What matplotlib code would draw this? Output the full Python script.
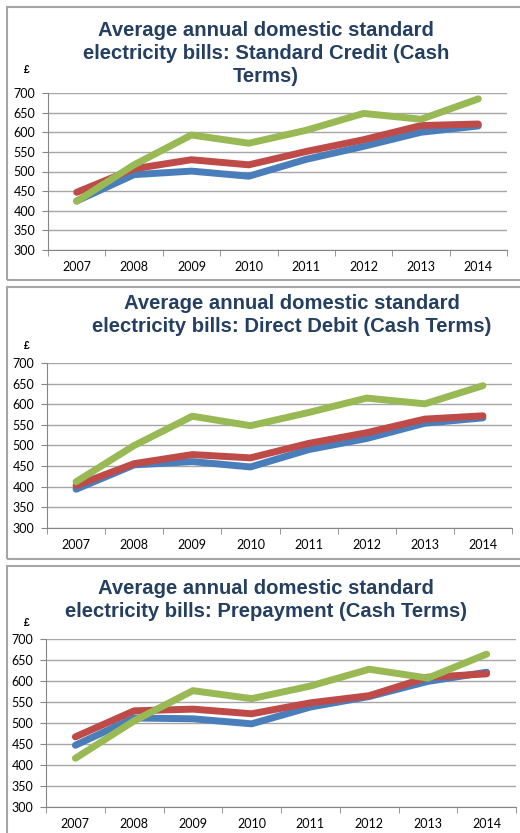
import matplotlib
matplotlib.use("Agg")
import matplotlib.pyplot as plt
from matplotlib.patches import Rectangle

W, H = 520, 833

years = ["2007", "2008", "2009", "2010", "2011", "2012", "2013", "2014"]

# Standard Credit
credit_blue = [425, 492, 501, 488, 531, 564, 600, 616]
credit_red = [447, 507, 530, 517, 551, 581, 617, 621]
credit_green = [424, 517, 593, 572, 605, 648, 633, 685]

# Direct Debit
debit_blue = [394, 453, 461, 448, 490, 517, 554, 567]
debit_red = [403, 456, 478, 470, 505, 531, 564, 572]
debit_green = [412, 500, 571, 548, 580, 615, 601, 645]

# Prepayment
prepay_blue = [447, 512, 510, 498, 538, 563, 599, 621]
prepay_red = [467, 529, 533, 522, 548, 565, 609, 617]
prepay_green = [416, 505, 577, 558, 588, 628, 607, 664]

titles = [
    "Average annual domestic standard\nelectricity bills: Standard Credit (Cash\nTerms)",
    "Average annual domestic standard\nelectricity bills: Direct Debit (Cash Terms)",
    "Average annual domestic standard\nelectricity bills: Prepayment (Cash Terms)",
]

colors = ["#4A7EBB", "#BE4B48", "#98B954"]
title_color = "#243F60"

# panel layout in pixels (top-origin): box top/bottom, axes l, r, t, b, title center x, title top y, pound y
panels = [
    dict(box=(7, 280), ax=(48, 507, 93, 250), tx=266, ty=21, py=70,
         data=(credit_blue, credit_red, credit_green), title=titles[0]),
    dict(box=(287, 559), ax=(47, 512, 363, 528), tx=292, ty=294, py=346,
         data=(debit_blue, debit_red, debit_green), title=titles[1]),
    dict(box=(566, 840), ax=(46, 516, 639, 807), tx=266, ty=579, py=623,
         data=(prepay_blue, prepay_red, prepay_green), title=titles[2]),
]

fig = plt.figure(figsize=(W / 100, H / 100), dpi=100)
fig.patch.set_facecolor("white")

for p in panels:
    bt, bb = p["box"]
    fig.patches.append(Rectangle((7 / W, 1 - bb / H), (W + 10) / W, (bb - bt) / H,
                                 transform=fig.transFigure, fill=False,
                                 edgecolor="#A6A6A6", linewidth=1.5))
    l, r, t, b = p["ax"]
    ax = fig.add_axes([l / W, 1 - b / H, (r - l) / W, (b - t) / H])
    x = list(range(len(years)))
    for vals, c in zip(p["data"], colors):
        ax.plot(x, vals, color=c, linewidth=5, solid_capstyle="round",
                solid_joinstyle="round")
    ax.set_xlim(-0.5, len(years) - 0.5)
    ax.set_ylim(300, 700)
    ax.set_yticks(range(300, 701, 50))
    ax.set_xticks(x)
    ax.set_xticklabels(years)
    ax.set_xticks([i - 0.5 for i in range(len(years) + 1)], minor=True)
    ax.tick_params(axis="x", which="major", length=0, pad=8, labelsize=9)
    ax.tick_params(axis="x", which="minor", length=4, color="#868686")
    ax.tick_params(axis="y", length=4, color="#868686", pad=5, labelsize=9)
    for lab in ax.get_xticklabels() + ax.get_yticklabels():
        lab.set_fontfamily("Lato")
    ax.grid(axis="y", color="#A6A6A6", linewidth=1)
    ax.set_axisbelow(True)
    for s in ["top", "right"]:
        ax.spines[s].set_visible(False)
    for s in ["left", "bottom"]:
        ax.spines[s].set_color("#868686")
    fig.text(p["tx"] / W, 1 - p["ty"] / H, p["title"], ha="center", va="top",
             fontsize=14.6, fontweight="bold", color=title_color,
             fontfamily="Liberation Sans", linespacing=1.27)
    fig.text(27 / W, 1 - p["py"] / H, "£", ha="center", va="center",
             fontsize=7.5, fontweight="bold", fontfamily="Liberation Sans")

fig.savefig("out.png", dpi=100)
